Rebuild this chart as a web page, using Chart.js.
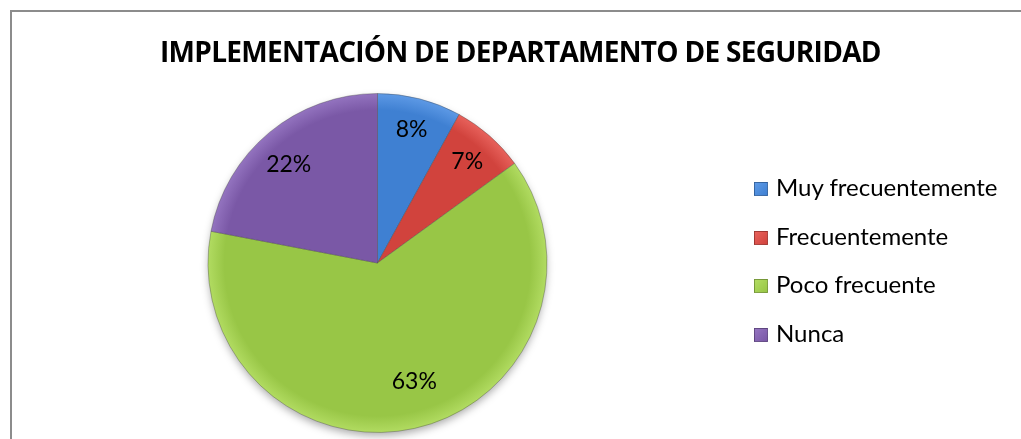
<!DOCTYPE html>
<html>
<head>
<meta charset="utf-8">
<script src="https://cdn.jsdelivr.net/npm/chart.js@4"></script>
<style>
  html, body { margin: 0; padding: 0; background: #fff; }
  #wrap { position: relative; width: 1021px; height: 439px; overflow: hidden; background: #fff; }
  #frame { position: absolute; left: 10px; top: 10px; width: 1100px; height: 500px; border: 2px solid #8c8c8c; box-sizing: border-box; }
  canvas { position: absolute; left: 0; top: 0; }
  #title { position: absolute; left: 160px; top: 32px; white-space: nowrap; font: bold 28px "Open Sans", Lato, sans-serif; color: #000; letter-spacing: -0.7px; }
  #legend { position: absolute; left: 754px; top: 172px; font: 24px Lato, "Open Sans", sans-serif; color: #000; }
  .item { height: 48.5px; display: flex; align-items: flex-start; }
  .box { width: 14px; height: 14px; margin-top: 10px; margin-right: 8px; box-sizing: border-box; border: 1px solid rgba(0,0,0,0.25); }
</style>
</head>
<body>
<div id="wrap">
  <div id="frame"></div>
  <canvas id="c" width="1021" height="439"></canvas>
  <div id="title"></div>
  <div id="legend"></div>
</div>
<script>
const chartTitle = "IMPLEMENTACIÓN DE DEPARTAMENTO DE SEGURIDAD";
const categories = ["Muy frecuentemente", "Frecuentemente", "Poco frecuente", "Nunca"];
const values = [8, 7, 63, 22];
const sliceColors = ["#3f80d2", "#d1433d", "#98c646", "#7a58a6"];
const edgeColors = ["#5e9ae6", "#e8625c", "#b2dc62", "#9474c0"];

document.getElementById('title').textContent = chartTitle;
const leg = document.getElementById('legend');
categories.forEach((c, i) => {
  const d = document.createElement('div'); d.className = 'item';
  const b = document.createElement('span'); b.className = 'box'; b.style.background = 'linear-gradient(135deg,' + edgeColors[i] + ',' + sliceColors[i] + ')';
  const t = document.createElement('span'); t.textContent = c;
  d.appendChild(b); d.appendChild(t); leg.appendChild(d);
});

const labelPlugin = {
  id: 'pctLabels',
  beforeDatasetsDraw(chart) {
    const ctx = chart.ctx;
    const meta = chart.getDatasetMeta(0);
    const a = meta.data[0];
    ctx.save();
    ctx.shadowColor = 'rgba(0,0,0,0.35)';
    ctx.shadowBlur = 8;
    ctx.shadowOffsetY = 4;
    ctx.fillStyle = '#fff';
    ctx.beginPath();
    ctx.arc(a.x, a.y, a.outerRadius - 1, 0, Math.PI * 2);
    ctx.fill();
    ctx.restore();
  },
  afterDatasetsDraw(chart) {
    const ctx = chart.ctx;
    const meta = chart.getDatasetMeta(0);
    const total = values.reduce((s, v) => s + v, 0);
    ctx.save();
    ctx.font = '23px Lato, "Open Sans", sans-serif';
    ctx.fillStyle = '#000';
    ctx.textAlign = 'center';
    ctx.textBaseline = 'middle';
    const factors = [0.81, 0.80, 0.73, 0.78];
    const offsets = [0, 0, -4.7, -2.6];
    meta.data.forEach((arc, i) => {
      const ang = (arc.startAngle + arc.endAngle) / 2 + offsets[i] * Math.PI / 180;
      const r = arc.outerRadius * factors[i];
      const x = arc.x + Math.cos(ang) * r;
      const y = arc.y + Math.sin(ang) * r;
      ctx.fillText(Math.round(values[i] / total * 100) + '%', x, y);
    });
    ctx.restore();
  }
};

new Chart(document.getElementById('c'), {
  type: 'pie',
  data: {
    labels: categories,
    datasets: [{
      data: values,
      backgroundColor: (ctx) => {
        const chart = ctx.chart;
        const area = chart.chartArea;
        if (!area) return sliceColors[ctx.dataIndex];
        const cx = (area.left + area.right) / 2, cy = (area.top + area.bottom) / 2;
        const r = Math.min(area.right - area.left, area.bottom - area.top) / 2;
        const g = chart.ctx.createRadialGradient(cx, cy, 0, cx, cy, r);
        g.addColorStop(0, sliceColors[ctx.dataIndex]);
        g.addColorStop(0.9, sliceColors[ctx.dataIndex]);
        g.addColorStop(1, edgeColors[ctx.dataIndex]);
        return g;
      },
      borderColor: 'rgba(60,60,60,0.35)',
      borderWidth: 1
    }]
  },
  options: {
    responsive: false,
    animation: false,
    layout: { padding: { top: 93, bottom: 6, left: 207, right: 473 } },
    plugins: { legend: { display: false }, tooltip: { enabled: false }, title: { display: false } }
  },
  plugins: [labelPlugin]
});
</script>
</body>
</html>
